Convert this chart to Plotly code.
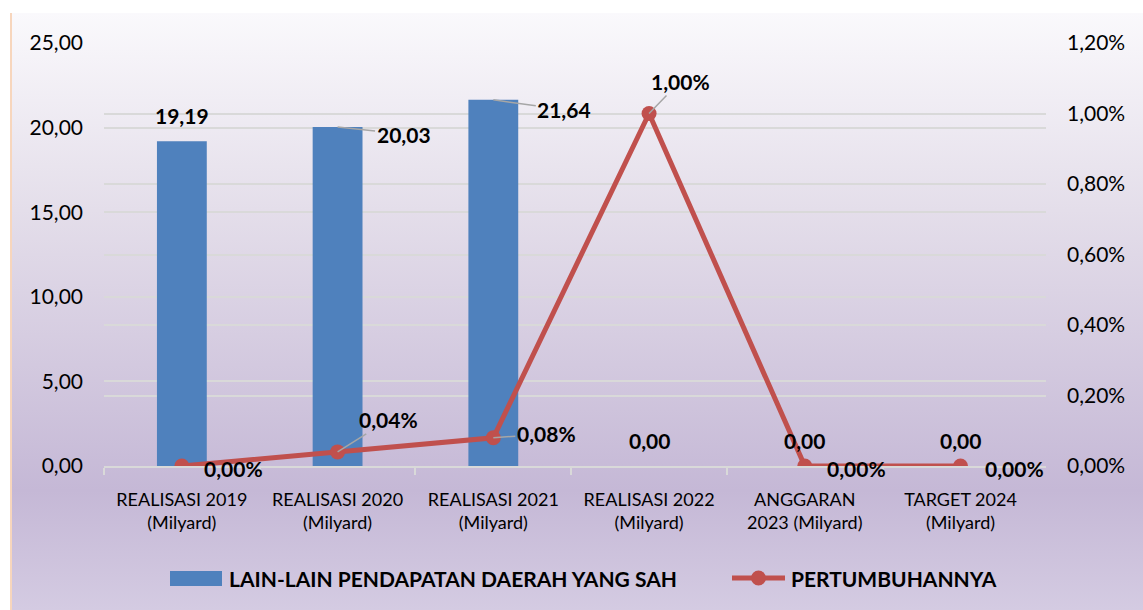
import base64
import plotly.graph_objects as go

# data
categories = [
    "REALISASI 2019<br>(Milyard)",
    "REALISASI 2020<br>(Milyard)",
    "REALISASI 2021<br>(Milyard)",
    "REALISASI 2022<br>(Milyard)",
    "ANGGARAN<br>2023 (Milyard)",
    "TARGET 2024<br>(Milyard)",
]
pendapatan = [19.19, 20.03, 21.64, 0.00, 0.00, 0.00]
pertumbuhan = [0.00, 0.04, 0.08, 1.00, 0.00, 0.00]  # percent

bar_name = "LAIN-LAIN PENDAPATAN DAERAH YANG SAH"
line_name = "PERTUMBUHANNYA"

BLUE = "#4f81bd"
RED = "#c0504d"
GRID = "#d9d9d9"
FONT = "Lato"

# plot area in pixels (for paper conversions of decorations)
L, R, T, B = 104, 1046, 43, 466
W, H = 1143, 610


def px(x):
    return (x - L) / (R - L)


def py(y):
    return (B - y) / (B - T)


def num(v, suffix=""):
    return f"{v:.2f}".replace(".", ",") + suffix


fig = go.Figure()

fig.add_trace(go.Bar(
    x=categories, y=pendapatan, name=bar_name,
    marker=dict(color=BLUE, line=dict(width=0)),
    width=0.32, showlegend=False,
))

fig.add_trace(go.Scatter(
    x=categories, y=pertumbuhan, name=line_name, yaxis="y2",
    mode="lines+markers",
    line=dict(color=RED, width=5),
    marker=dict(color=RED, size=15),
    showlegend=False,
))

# data labels (offsets in pixels: dx, dy, leader line?)
bar_label_style = [(0, -26, False), (66, 7, True), (71, 10, True),
                   (0, -26, False), (0, -26, False), (0, -26, False)]
line_label_style = [(52, 2, False), (51, -32, True), (53, -4, True),
                    (31, -32, True), (52, 2, False), (54, 2, False)]

annotations = []
for cat, v, (dx, dy, lead) in zip(categories, pendapatan, bar_label_style):
    annotations.append(dict(
        x=cat, y=v, xref="x", yref="y", text=num(v),
        showarrow=True, ax=dx, ay=dy,
        arrowhead=0, arrowwidth=1.5,
        arrowcolor="#a6a6a6" if lead else "rgba(0,0,0,0)",
        font=dict(family=FONT, size=21, color="#000000", weight="bold"),
    ))
for cat, v, (dx, dy, lead) in zip(categories, pertumbuhan, line_label_style):
    annotations.append(dict(
        x=cat, y=v, xref="x", yref="y2", text=num(v, "%"),
        showarrow=True, ax=dx, ay=dy,
        arrowhead=0, arrowwidth=1.5,
        arrowcolor="#a6a6a6" if lead else "rgba(0,0,0,0)",
        font=dict(family=FONT, size=21, color="#000000", weight="bold"),
    ))

# manual legend
legend_y = py(578)
annotations.append(dict(
    x=px(227), y=legend_y, xref="paper", yref="paper", xanchor="left",
    yanchor="middle", text=bar_name, showarrow=False,
    font=dict(family=FONT, size=21, color="#000000", weight="bold"),
))
annotations.append(dict(
    x=px(789), y=legend_y, xref="paper", yref="paper", xanchor="left",
    yanchor="middle", text=line_name, showarrow=False,
    font=dict(family=FONT, size=21, color="#000000", weight="bold"),
))

shapes = [
    dict(type="rect", xref="paper", yref="paper",
         x0=px(170), x1=px(222), y0=py(571), y1=py(586),
         fillcolor=BLUE, line=dict(width=0)),
    dict(type="line", xref="paper", yref="paper",
         x0=px(732), x1=px(785), y0=legend_y, y1=legend_y,
         line=dict(color=RED, width=5)),
    dict(type="circle", xref="paper", yref="paper",
         x0=px(751), x1=px(766), y0=py(585.5), y1=py(570.5),
         fillcolor=RED, line=dict(width=0)),
]

# gradient background as svg image
bg_w, bg_h = W - 10, H - 13
svg = f"""<svg xmlns="http://www.w3.org/2000/svg" width="{bg_w}" height="{bg_h}" viewBox="0 0 {bg_w} {bg_h}" preserveAspectRatio="none">
<defs><linearGradient id="g" x1="0" y1="0" x2="0" y2="1">
<stop offset="0" stop-color="#faf9fc"/>
<stop offset="0.33" stop-color="#e4deea"/>
<stop offset="0.8" stop-color="#c5b8d6"/>
<stop offset="1" stop-color="#d4cbe2"/>
</linearGradient></defs>
<rect width="{bg_w}" height="{bg_h}" fill="url(#g)"/>
<rect width="2" height="{bg_h}" fill="#f7d6bd"/>
</svg>"""
bg_src = "data:image/svg+xml;base64," + base64.b64encode(svg.encode()).decode()

fig.update_layout(
    width=W, height=H,
    margin=dict(l=L, r=W - R, t=T, b=H - B),
    paper_bgcolor="#ffffff",
    plot_bgcolor="rgba(0,0,0,0)",
    separators=", ",
    font=dict(family=FONT, color="#000000"),
    showlegend=False,
    annotations=annotations,
    shapes=shapes,
    images=[dict(
        source=bg_src, xref="paper", yref="paper",
        x=px(10), y=py(13), sizex=bg_w / (R - L), sizey=bg_h / (B - T),
        xanchor="left", yanchor="top", sizing="stretch", layer="below",
    )],
    xaxis=dict(
        type="category",
        showline=True, linecolor=GRID, linewidth=2,
        ticks="outside", tickson="boundaries", ticklen=7,
        tickcolor=GRID, tickwidth=2,
        tickfont=dict(family=FONT, size=18, color="#000000"),
        ticklabelstandoff=16,
        showgrid=False, zeroline=False,
    ),
    yaxis=dict(
        range=[0, 25], dtick=5, tickformat=".2f",
        showgrid=True, gridcolor=GRID, gridwidth=1.5,
        zeroline=False, showline=False,
        tickfont=dict(family=FONT, size=21, color="#000000"),
        ticklabelstandoff=20,
    ),
    yaxis2=dict(
        range=[0, 1.2], dtick=0.2, tickformat=".2f", ticksuffix="%",
        overlaying="y", side="right",
        showgrid=True, gridcolor=GRID, gridwidth=1.5,
        zeroline=False, showline=False,
        tickfont=dict(family=FONT, size=21, color="#000000"),
        ticklabelstandoff=20,
    ),
)

fig.write_html(
    "out.html",
    config={"displayModeBar": False},
    post_script="document.body.style.margin='0px';",
)
